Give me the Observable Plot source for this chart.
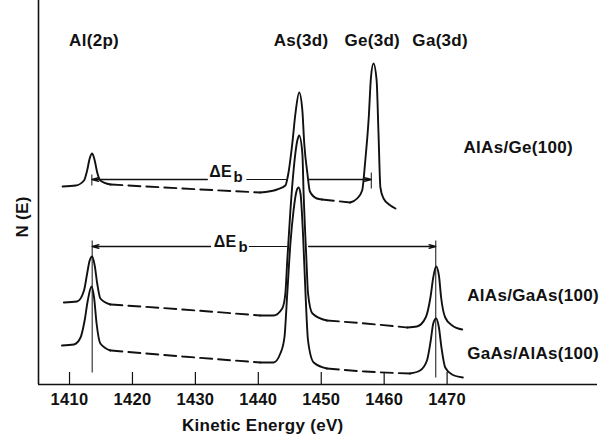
<!DOCTYPE html>
<html>
<head>
<meta charset="utf-8">
<script src="https://cdn.jsdelivr.net/npm/d3@7"></script>
<script src="https://cdn.jsdelivr.net/npm/@observablehq/plot@0.6"></script>
<style>
  html, body { margin: 0; padding: 0; background: #fff; }
  #chart svg { display: block; }
  #chart svg text { letter-spacing: 0.3px; }
</style>
</head>
<body>
<div id="chart"></div>
<script>
// ---- axis ----
const xDomain = [1405.07, 1493.9];
const yDomain = [0, 384];
const xTicks = [1410, 1420, 1430, 1440, 1450, 1460, 1470];
const xLabel = "Kinetic Energy (eV)";
const yLabel = "N (E)";

// ---- spectrum 1: AlAs/Ge(100)  [kinetic energy, N(E)] ----
const geAl    = [[1408.9,198],[1411.0,199],[1412.3,204],[1412.8,214],[1413.2,226],[1413.6,231],[1414.0,224],[1414.4,212],[1414.9,204],[1416.5,200]];
const geDash1 = [[1416.5,200],[1428,196],[1440.3,192]];
const geAs    = [[1440.3,192],[1443.0,195],[1444.3,199],[1444.8,212],[1445.4,241],[1445.9,271],[1446.5,292],[1447.0,274],[1447.3,241],[1447.8,211],[1448.2,193],[1449.3,186],[1450.1,185]];
const geDash2 = [[1450.1,185],[1454.6,182]];
const geGe    = [[1454.6,182],[1455.7,186],[1456.5,194],[1457.0,224],[1457.55,267],[1457.9,307],[1458.3,321],[1458.8,304],[1459.1,251],[1459.4,197],[1459.9,186],[1461.0,179],[1461.8,176]];

// ---- spectrum 2: AlAs/GaAs(100) ----
const agAl    = [[1409.1,82],[1411.2,83],[1412.3,94],[1412.8,111],[1413.2,124],[1413.6,128],[1414.0,119],[1414.4,101],[1414.9,86],[1416.5,80]];
const agDash1 = [[1416.5,80],[1428,75],[1440.3,69]];
const agAs    = [[1440.3,69],[1442.4,69],[1443.8,76],[1444.3,91],[1444.6,124],[1445.1,174],[1445.6,214],[1446.2,244],[1446.5,249],[1447.0,231],[1447.2,191],[1447.65,124],[1447.9,91],[1448.6,71],[1450.9,64]];
const agDash2 = [[1450.9,64],[1457,61],[1463.7,57]];
const agGa    = [[1463.7,57],[1465.2,58],[1466.6,67],[1467.35,87],[1467.8,107],[1468.25,118],[1468.7,109],[1469.05,87],[1469.7,67],[1470.8,59],[1472.4,55]];

// ---- spectrum 3: GaAs/AlAs(100) ----
const gaAl    = [[1408.8,39],[1410.7,40],[1411.75,47],[1412.4,64],[1412.9,84],[1413.5,98],[1413.9,87],[1414.3,61],[1414.9,41],[1416.5,34]];
const gaDash1 = [[1416.5,34],[1428,28],[1440.3,22]];
const gaAs    = [[1440.3,22],[1442.4,22],[1443.5,31],[1444.15,47],[1444.6,91],[1445.1,141],[1445.6,174],[1446.1,194],[1446.4,197],[1446.7,191],[1447.1,151],[1447.5,91],[1447.9,44],[1448.8,22],[1450.9,16]];
const gaDash2 = [[1450.9,16],[1457,13],[1464.1,11]];
const gaGa    = [[1464.1,11],[1465.7,14],[1466.8,24],[1467.4,44],[1467.8,61],[1468.25,66],[1468.7,57],[1469.1,37],[1469.7,17],[1470.8,10],[1472.5,7]];

// ---- labels ----
const peakNames = ["Al(2p)", "As(3d)", "Ge(3d)", "Ga(3d)"];
const peakLabelE = [1413.9, 1446.8, 1458.1, 1468.9];
const peakLabelN = 338.5;
const sampleNames = ["AlAs/Ge(100)", "AlAs/GaAs(100)", "GaAs/AlAs(100)"];
const sampleLabelE = [1472.6, 1473.2, 1473.2];
const sampleLabelN = [232, 84, 26];

// ---- ΔEb annotations ----
const dEbLevels = [205, 138];
const dEbLeftE = [1413.55, 1413.6];
const dEbRightE = [1457.95, 1468.2];
const dEbGapE = [[1431.9, 1438.1], [1432.4, 1438.5]];
const dEbPeakGapE = [[1444.5, 1448.1], [1444.6, 1448.0]];
const dEbTextE = [1432.2, 1432.9];
const dEbSubE = [1436.05, 1436.85];
const dEbTextN = [208, 137.3];
const dEbSubN = [202.3, 132.3];
const refLines = [[1413.6, 12, 144], [1468.2, 7, 144]];
const upperTicks = [[1413.55, 199, 210], [1457.95, 196, 212]];

// ---- build tables ----
const segs = [
  [geAl,false],[geDash1,true],[geAs,false],[geDash2,true],[geGe,false],
  [agAl,false],[agDash1,true],[agAs,false],[agDash2,true],[agGa,false],
  [gaAl,false],[gaDash1,true],[gaAs,false],[gaDash2,true],[gaGa,false]
];
const rows = segs.flatMap(([pts, dashed], i) => pts.map(([E, N]) => ({id: i, dashed, E, N})));

const arrows = [];
const links = [];
dEbLevels.forEach((N, i) => {
  arrows.push({x1: dEbGapE[i][0], x2: dEbLeftE[i], y: N});
  links.push({x1: dEbGapE[i][1], x2: dEbPeakGapE[i][0], y1: N, y2: N});
  arrows.push({x1: dEbPeakGapE[i][1], x2: dEbRightE[i], y: N});
});
refLines.forEach(([E, a, b]) => links.push({x1: E, x2: E, y1: a, y2: b}));
upperTicks.forEach(([E, a, b]) => links.push({x1: E, x2: E, y1: a, y2: b}));

const font = "'Liberation Sans', Arial, Helvetica, sans-serif";
const ink = "#111";

const chart = Plot.plot({
  width: 611,
  height: 438,
  marginLeft: 38,
  marginRight: 14,
  marginTop: 0,
  marginBottom: 54,
  style: {fontFamily: font, fontWeight: "bold", background: "#fff", color: ink},
  x: {domain: xDomain, axis: null},
  y: {domain: yDomain, axis: null},
  marks: [
    // axes
    Plot.ruleX([xDomain[0]], {stroke: ink, strokeWidth: 1.6}),
    Plot.ruleY([0], {stroke: ink, strokeWidth: 1.6}),
    Plot.ruleX(xTicks, {x: d => d, y1: 0, y2: 12, stroke: ink, strokeWidth: 1.2}),
    Plot.text(xTicks, {x: d => d, frameAnchor: "bottom", dy: 9, lineAnchor: "top", text: d => String(d), fontSize: 16.5, fontWeight: "bold", fill: ink}),
    Plot.text([xLabel], {x: 1440.7, frameAnchor: "bottom", dy: 34, lineAnchor: "top", text: d => d, fontSize: 17, fontWeight: "bold", fill: ink}),
    Plot.text([yLabel], {y: 147, frameAnchor: "left", dx: -16, rotate: -90, text: d => d, fontSize: 17, fontWeight: "bold", fill: ink}),
    // spectra
    Plot.line(rows.filter(d => !d.dashed), {x: "E", y: "N", z: "id", curve: "monotone-x", stroke: ink, strokeWidth: 1.9}),
    Plot.line(rows.filter(d => d.dashed), {x: "E", y: "N", z: "id", curve: "monotone-x", stroke: ink, strokeWidth: 1.9, strokeDasharray: "12,6"}),
    // annotations
    Plot.link(links, {x1: "x1", x2: "x2", y1: "y1", y2: "y2", stroke: ink, strokeWidth: 1}),
    Plot.arrow(arrows, {x1: "x1", x2: "x2", y1: "y", y2: "y", stroke: ink, strokeWidth: 1.3, headLength: 8, headAngle: 30, inset: 0}),
    Plot.text(dEbTextE, {x: d => d, y: (d, i) => dEbTextN[i], text: () => "ΔE", textAnchor: "start", lineAnchor: "bottom", fontSize: 16, fontWeight: "bold", fill: ink}),
    Plot.text(dEbSubE, {x: d => d, y: (d, i) => dEbSubN[i], text: () => "b", textAnchor: "start", lineAnchor: "bottom", fontSize: 15, fontWeight: "bold", fill: ink}),
    Plot.text(peakNames, {x: (d, i) => peakLabelE[i], y: peakLabelN, text: d => d, lineAnchor: "bottom", fontSize: 17, fontWeight: "bold", fill: ink}),
    Plot.text(sampleNames, {x: (d, i) => sampleLabelE[i], y: (d, i) => sampleLabelN[i], text: d => d, textAnchor: "start", lineAnchor: "bottom", fontSize: 17, fontWeight: "bold", fill: ink})
  ]
});
document.getElementById("chart").appendChild(chart);
</script>
</body>
</html>
